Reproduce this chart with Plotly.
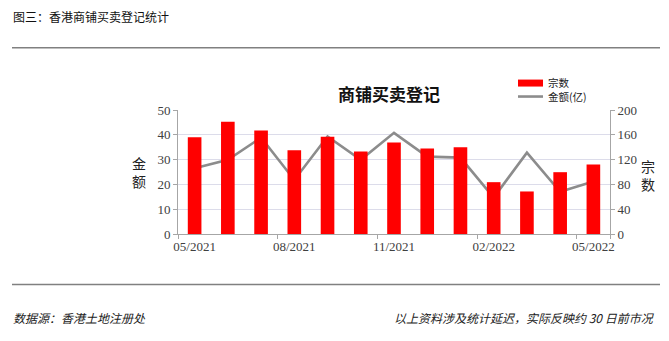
import plotly.graph_objects as go

months = ["05/2021", "06/2021", "07/2021", "08/2021", "09/2021", "10/2021", "11/2021",
          "12/2021", "01/2022", "02/2022", "03/2022", "04/2022", "05/2022"]
count_vals = [156, 181, 167, 135, 157, 133, 147.5, 138, 140, 83.6, 68.6, 99.7, 112]   # 宗数 (right axis)
amount_vals = [26.5, 29.9, 38.9, 21.8, 39.3, 29.9, 40.8, 31.2, 30.8, 14.7, 32.8, 17.0, 21.2]  # 金额(亿) (left axis)
tick_idx = [0, 3, 6, 9, 12]
tick_labels = [months[i] for i in tick_idx]
legend_names = ["宗数", "金额(亿)"]

W, H = 669, 341
L, R, T, B = 178, 610, 110, 234.3

def px(x):
    return (x - L) / (R - L)

def py(y):
    return (B - y) / (B - T)

xs = list(range(len(months)))

fig = go.Figure()
fig.add_trace(go.Bar(x=xs, y=count_vals, name=legend_names[0], marker_color="#ff0000",
                     marker_line_width=0, yaxis="y2"))
fig.add_trace(go.Scatter(x=xs, y=amount_vals, name=legend_names[1], mode="lines",
                         line=dict(color="#8c8c8c", width=2.6), yaxis="y"))

tickfont = dict(family="Liberation Serif", size=13, color="#404040")
cjk = "Noto Sans CJK SC"

fig.update_layout(
    width=W, height=H,
    margin=dict(l=L, r=W - R, t=T, b=H - B, pad=0),
    paper_bgcolor="white", plot_bgcolor="white",
    showlegend=False,
    bargap=0.59,
    xaxis=dict(range=[-0.5, len(months) - 0.5], tickmode="array", tickvals=tick_idx,
               ticktext=tick_labels, ticks="", showgrid=False, zeroline=False,
               showline=True, linecolor="#a6a6a6", linewidth=1, tickfont=tickfont,
               minor=dict(tickmode="array", tickvals=[-0.5, 2.5, 5.5, 8.5, 11.5, 12.5],
                          ticks="outside", ticklen=4, tickcolor="#a6a6a6", showgrid=False)),
    yaxis=dict(range=[0, 50], dtick=10, showgrid=True, gridcolor="#dcdcea", gridwidth=1,
               zeroline=False, showline=True, linecolor="#a6a6a6", linewidth=1,
               ticks="outside", ticklen=4, tickcolor="#a6a6a6", tickfont=tickfont),
    yaxis2=dict(range=[0, 200], dtick=40, overlaying="y", side="right", showgrid=False,
                zeroline=False, showline=True, linecolor="#a6a6a6", linewidth=1,
                ticks="outside", ticklen=4, tickcolor="#a6a6a6", tickfont=tickfont),
)

shapes = [
    dict(type="line", xref="paper", yref="paper", x0=px(12), x1=px(660), y0=py(47.5), y1=py(47.5),
         line=dict(color="#808080", width=1.5)),
    dict(type="line", xref="paper", yref="paper", x0=px(12), x1=px(660), y0=py(285), y1=py(285),
         line=dict(color="#808080", width=1.5)),
    # legend swatches
    dict(type="rect", xref="paper", yref="paper", x0=px(518), x1=px(543), y0=py(86.5), y1=py(79.5),
         fillcolor="#ff0000", line=dict(width=0)),
    dict(type="line", xref="paper", yref="paper", x0=px(518), x1=px(543), y0=py(96.5), y1=py(96.5),
         line=dict(color="#8c8c8c", width=2.6)),
]
fig.update_layout(shapes=shapes)

def ann(text, x, y, size, xanchor="left", color="#000000", family=cjk, weight="normal", style="normal", align="left"):
    return dict(text=text, x=px(x), y=py(y), xref="paper", yref="paper", showarrow=False,
                xanchor=xanchor, yanchor="middle", align=align,
                font=dict(family=family, size=size, color=color, weight=weight, style=style))

annotations = [
    ann("图三：香港商铺买卖登记统计", 11, 16, 12, color="#111111"),
    ann("商铺买卖登记", 389, 93, 17, xanchor="center", weight="bold", color="#111111"),
    ann("<br>".join(legend_names), 546, 89.5, 10.5, color="#222222"),
    ann("金<br>额", 139, 172.5, 14, xanchor="center", color="#222222", align="center"),
    ann("宗<br>数", 648, 175, 14, xanchor="center", color="#222222", align="center"),
    ann("数据源：香港土地注册处", 11, 318, 12, color="#222222", style="italic"),
    ann("以上资料涉及统计延迟，实际反映约 30 日前市况", 657, 318, 12, xanchor="right",
        color="#222222", style="italic"),
]
fig.update_layout(annotations=annotations)

fig.write_html("out.html")
